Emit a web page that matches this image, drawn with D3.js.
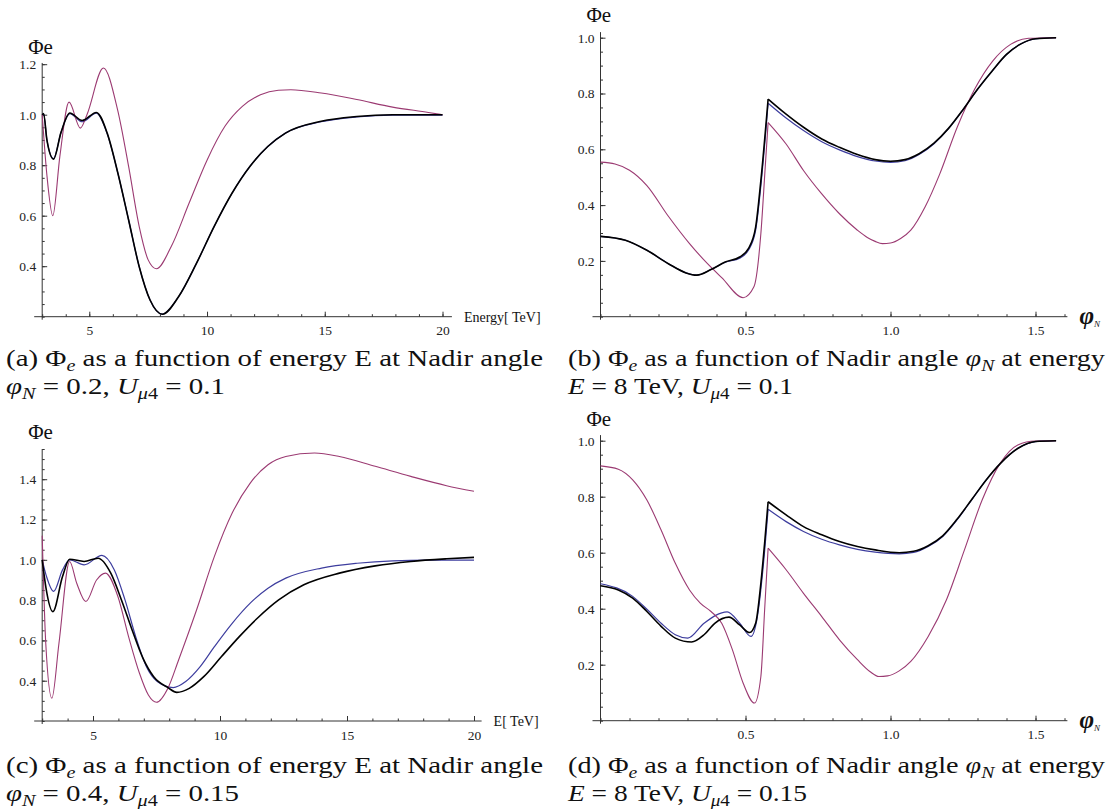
<!DOCTYPE html>
<html>
<head>
<meta charset="utf-8">
<script src="https://cdn.jsdelivr.net/npm/d3@7"></script>
<style>
  body { margin: 0; background: #fff; }
  svg { display: block; }
  svg text { font-family: 'Liberation Serif', 'DejaVu Serif', serif; }
</style>
</head>
<body>
<svg width="1111" height="809"></svg>
<script>
// values, [x, Phi_e] pairs
// (a) energy scan, phi_N = 0.2, U = 0.1
const aBlue = [[3,1.0],[3.06,1.003],[3.2,0.9],[3.48,0.826],[3.8,0.93],[4.17,1.004],[4.7,0.972],[5.3,1.006],[5.76,0.925],[6.21,0.77],[6.67,0.583],[7.12,0.398],[7.58,0.266],[8.1,0.21],[8.79,0.279],[9.55,0.411],[10.3,0.557],[11.06,0.689],[11.82,0.795],[12.58,0.874],[13.33,0.927],[14.85,0.972],[16.36,0.991],[17.88,0.998],[20,0.998]];
const aMagenta = [[3,1.0],[3.2,0.76],[3.45,0.6],[3.75,0.835],[4.14,1.05],[4.62,0.947],[4.9,1.0],[5.6,1.185],[6.2,1.02],[6.67,0.795],[7.12,0.557],[7.5,0.425],[7.85,0.39],[8.48,0.478],[9.24,0.65],[10,0.82],[10.76,0.954],[11.5,1.033],[12.27,1.079],[13.03,1.097],[13.56,1.099],[14.85,1.086],[16.36,1.06],[17.88,1.03],[19.4,1.009],[20,1.0]];
const aBlack = [[3,1.0],[3.06,1.005],[3.2,0.9],[3.48,0.824],[3.8,0.93],[4.17,1.007],[4.7,0.977],[5.3,1.009],[5.76,0.927],[6.21,0.77],[6.67,0.583],[7.12,0.398],[7.58,0.266],[8.1,0.21],[8.79,0.279],[9.55,0.411],[10.3,0.557],[11.06,0.689],[11.82,0.795],[12.58,0.874],[13.33,0.927],[14.85,0.974],[16.36,0.993],[17.88,1.0],[20,1.0]];

// (b) nadir angle scan, E = 8 TeV, U = 0.1
const bBlue = [[0,0.288],[0.086,0.274],[0.16,0.238],[0.234,0.19],[0.295,0.157],[0.332,0.149],[0.381,0.169],[0.43,0.195],[0.48,0.21],[0.51,0.238],[0.535,0.31],[0.553,0.47],[0.578,0.765],[0.64,0.712],[0.7,0.667],[0.763,0.627],[0.824,0.598],[0.886,0.574],[0.947,0.558],[1.0,0.553],[1.05,0.559],[1.1,0.582],[1.15,0.62],[1.2,0.674],[1.25,0.742],[1.3,0.815],[1.35,0.88],[1.4,0.94],[1.45,0.978],[1.5,0.996],[1.571,1.0]];
const bMagenta = [[0,0.554],[0.05,0.547],[0.1,0.525],[0.16,0.47],[0.234,0.36],[0.307,0.262],[0.369,0.19],[0.418,0.14],[0.492,0.068],[0.529,0.107],[0.553,0.298],[0.568,0.536],[0.578,0.696],[0.64,0.619],[0.7,0.524],[0.763,0.44],[0.824,0.369],[0.886,0.31],[0.92,0.284],[0.947,0.27],[0.972,0.262],[1.0,0.264],[1.035,0.28],[1.07,0.31],[1.12,0.395],[1.17,0.512],[1.23,0.679],[1.29,0.815],[1.353,0.917],[1.414,0.976],[1.476,0.998],[1.571,1.0]];
const bBlack = [[0,0.288],[0.086,0.274],[0.16,0.238],[0.234,0.19],[0.295,0.157],[0.332,0.149],[0.381,0.169],[0.43,0.196],[0.48,0.214],[0.51,0.244],[0.535,0.321],[0.553,0.488],[0.578,0.78],[0.64,0.726],[0.7,0.679],[0.763,0.637],[0.824,0.607],[0.886,0.581],[0.947,0.563],[1.0,0.557],[1.05,0.563],[1.1,0.585],[1.15,0.622],[1.2,0.675],[1.25,0.742],[1.3,0.815],[1.35,0.88],[1.4,0.94],[1.45,0.978],[1.5,0.996],[1.571,1.0]];

// (c) energy scan, phi_N = 0.4, U = 0.15
const cBlue = [[3,1.0],[3.17,0.917],[3.45,0.843],[3.8,0.95],[4.08,1.0],[4.65,0.975],[5.35,1.022],[5.84,0.95],[6.26,0.801],[6.68,0.619],[7.1,0.47],[7.53,0.396],[8.16,0.366],[8.65,0.396],[9.22,0.47],[9.78,0.569],[10.48,0.685],[11.19,0.785],[11.89,0.859],[12.59,0.909],[14,0.959],[15.4,0.983],[16.8,0.995],[18.2,0.998],[20,0.998]];
const cMagenta = [[3,1.12],[3.14,0.586],[3.38,0.313],[3.66,0.586],[4.08,0.992],[4.36,0.884],[4.72,0.793],[5.14,0.9],[5.49,0.934],[5.98,0.818],[6.4,0.619],[6.83,0.437],[7.18,0.329],[7.5,0.293],[7.95,0.363],[8.37,0.503],[9.08,0.752],[9.78,1.017],[10.48,1.232],[11.19,1.381],[11.89,1.472],[12.59,1.513],[13.72,1.53],[14.7,1.513],[16.11,1.464],[17.51,1.414],[18.92,1.368],[20,1.34]];
const cBlack = [[3,1.0],[3.15,0.86],[3.42,0.743],[3.8,0.917],[4.08,1.003],[4.65,0.992],[5.2,1.008],[5.7,0.934],[6.12,0.801],[6.54,0.652],[6.97,0.511],[7.39,0.42],[7.95,0.366],[8.3,0.342],[8.79,0.362],[9.36,0.42],[10.06,0.52],[10.76,0.619],[11.47,0.71],[12.31,0.801],[13.3,0.876],[14.7,0.934],[16.11,0.97],[17.51,0.992],[18.92,1.005],[20,1.012]];

// (d) nadir angle scan, E = 8 TeV, U = 0.15
const dBlue = [[0,0.489],[0.111,0.444],[0.16,0.398],[0.209,0.348],[0.258,0.307],[0.301,0.295],[0.357,0.348],[0.437,0.389],[0.48,0.348],[0.519,0.301],[0.541,0.372],[0.56,0.539],[0.578,0.755],[0.64,0.711],[0.7,0.676],[0.763,0.648],[0.824,0.628],[0.886,0.612],[0.947,0.602],[1.03,0.596],[1.08,0.601],[1.13,0.622],[1.18,0.658],[1.23,0.718],[1.28,0.789],[1.33,0.86],[1.38,0.92],[1.44,0.973],[1.5,0.997],[1.571,1.0]];
const dMagenta = [[0,0.91],[0.0615,0.898],[0.111,0.86],[0.16,0.788],[0.209,0.681],[0.258,0.562],[0.307,0.467],[0.344,0.42],[0.381,0.39],[0.418,0.348],[0.455,0.253],[0.492,0.134],[0.531,0.063],[0.553,0.158],[0.566,0.396],[0.578,0.616],[0.64,0.539],[0.7,0.455],[0.763,0.372],[0.824,0.289],[0.886,0.218],[0.93,0.175],[0.96,0.158],[0.99,0.16],[1.03,0.178],[1.07,0.212],[1.13,0.301],[1.193,0.432],[1.255,0.61],[1.316,0.788],[1.378,0.919],[1.439,0.985],[1.5,0.999],[1.571,1.0]];
const dBlack = [[0,0.482],[0.0615,0.467],[0.111,0.438],[0.16,0.39],[0.209,0.337],[0.258,0.295],[0.314,0.281],[0.357,0.307],[0.394,0.348],[0.443,0.37],[0.48,0.342],[0.514,0.315],[0.535,0.348],[0.553,0.491],[0.566,0.634],[0.578,0.782],[0.64,0.735],[0.7,0.693],[0.763,0.664],[0.824,0.64],[0.886,0.622],[0.947,0.61],[1.03,0.6],[1.08,0.605],[1.13,0.625],[1.18,0.66],[1.23,0.72],[1.28,0.79],[1.33,0.86],[1.38,0.92],[1.44,0.973],[1.5,0.997],[1.571,1.0]];

// tick labels
const energyTicks = [5, 10, 15, 20];
const angleTicks = [0.5, 1.0, 1.5];
const yTicksA = [0.4, 0.6, 0.8, 1.0, 1.2];
const yTicksB = [0.2, 0.4, 0.6, 0.8, 1.0];
const yTicksC = [0.4, 0.6, 0.8, 1.0, 1.2, 1.4];

// captions: [text, style] segments. style: i = italic, s = subscript, is = italic subscript
const capA = [[['(a) '], ['Φ'], ['e', 'is'], [' as a function of energy E at Nadir angle']],
              [['φ', 'i'], ['N', 'is'], [' = 0.2, '], ['U', 'i'], ['μ', 'is'], ['4', 's'], [' = 0.1']]];
const capB = [[['(b) '], ['Φ'], ['e', 'is'], [' as a function of Nadir angle '], ['φ', 'i'], ['N', 'is'], [' at energy']],
              [['E', 'i'], [' = 8 TeV, '], ['U', 'i'], ['μ', 'is'], ['4', 's'], [' = 0.1']]];
const capC = [[['(c) '], ['Φ'], ['e', 'is'], [' as a function of energy E at Nadir angle']],
              [['φ', 'i'], ['N', 'is'], [' = 0.4, '], ['U', 'i'], ['μ', 'is'], ['4', 's'], [' = 0.15']]];
const capD = [[['(d) '], ['Φ'], ['e', 'is'], [' as a function of Nadir angle '], ['φ', 'i'], ['N', 'is'], [' at energy']],
              [['E', 'i'], [' = 8 TeV, '], ['U', 'i'], ['μ', 'is'], ['4', 's'], [' = 0.15']]];

const colBlue = '#3d3d9e';
const colMagenta = '#9b3a72';

const svg = d3.select('svg');

function drawPanel(p) {
  const g = svg.append('g');
  const x = d3.scaleLinear().domain(p.xDomain).range(p.xRange);
  const y = d3.scaleLinear().domain(p.yDomain).range(p.yRange);
  const x0 = x(p.xDomain[0]);
  const y0 = y(p.yDomain[0]);

  // axis lines, Mathematica style (crossing slightly)
  g.append('line')
   .attr('x1', x0 - 8).attr('x2', x(p.xAxisEnd))
   .attr('y1', y0).attr('y2', y0)
   .style('stroke', '#333').style('stroke-width', 1);
  g.append('line')
   .attr('x1', x0).attr('x2', x0)
   .attr('y1', y0 + 3).attr('y2', y(p.yAxisEnd))
   .style('stroke', '#333').style('stroke-width', 1);

  // minor ticks
  g.append('g')
   .attr('transform', `translate(0, ${y0})`)
   .call(d3.axisBottom(x).tickValues(p.xMinor).tickSize(-2.5).tickFormat(''))
   .call(a => a.select('.domain').remove());
  g.append('g')
   .attr('transform', `translate(${x0}, 0)`)
   .call(d3.axisLeft(y).tickValues(p.yMinor).tickSize(-2.5).tickFormat(''))
   .call(a => a.select('.domain').remove());

  // major ticks + labels
  const xa = g.append('g')
   .attr('transform', `translate(0, ${y0})`)
   .call(d3.axisBottom(x).tickValues(p.xTicks).tickSize(-5).tickPadding(9).tickFormat(p.xFormat))
   .call(a => a.select('.domain').remove());
  const ya = g.append('g')
   .attr('transform', `translate(${x0}, 0)`)
   .call(d3.axisLeft(y).tickValues(p.yTicks).tickSize(-5).tickPadding(6).tickFormat(d3.format('.1f')))
   .call(a => a.select('.domain').remove());

  g.selectAll('.tick line').style('stroke', '#333').style('stroke-width', 1);
  [xa, ya].forEach(a => a.attr('font-family', null).attr('font-size', null)
    .selectAll('text').style('font-size', '13.5px').style('fill', '#222'));

  // curves, split at the sharp kink (core boundary) so the corner stays sharp
  const line = d3.line()
    .x(d => x(d[0]))
    .y(d => y(d[1]))
    .curve(d3.curveMonotoneX);

  p.series.forEach(s => {
    const pieces = p.kink == null ? [s.data]
      : [s.data.filter(d => d[0] <= p.kink), s.data.filter(d => d[0] >= p.kink)];
    pieces.forEach(piece => {
      g.append('path')
       .datum(piece)
       .attr('d', line)
       .style('fill', 'none')
       .style('stroke', s.color)
       .style('stroke-width', s.width)
       .style('stroke-linejoin', 'round');
    });
  });

  // y label
  g.append('text')
   .text('Φe')
   .attr('x', x0 - 14).attr('y', p.yLabelY)
   .style('font-size', '21px').style('fill', '#111');

  // x label
  const xl = g.append('text')
   .attr('x', x(p.xAxisEnd) + 12).attr('y', y0 + 5)
   .style('fill', '#111');
  if (p.xLabel === 'phi') {
    xl.attr('y', y0 + 7);
    xl.append('tspan').text('φ').style('font-style', 'italic').style('font-size', '25px').style('font-weight', 'bold');
    xl.append('tspan').text('N').attr('dy', 3).style('font-style', 'italic').style('font-size', '9px');
  } else {
    xl.text(p.xLabel).style('font-size', '14px');
  }
}

function drawCaption(lines, xPos, yPos, widths) {
  lines.forEach((segs, li) => {
    const t = svg.append('text')
      .attr('x', xPos).attr('y', yPos + li * 28)
      .attr('textLength', widths[li])
      .attr('lengthAdjust', 'spacingAndGlyphs')
      .style('font-size', '23px').style('fill', '#111');
    let shift = 0;
    segs.forEach(([txt, st]) => {
      const sub = st === 's' || st === 'is';
      const want = sub ? 5 : 0;
      const ts = t.append('tspan').text(txt).attr('dy', want - shift);
      shift = want;
      if (st === 'i' || st === 'is') ts.style('font-style', 'italic');
      if (sub) ts.style('font-size', '16px');
    });
  });
}

const eMinor = d3.range(3, 21);
const phiMinor = d3.range(0, 17).map(i => i / 10);
const minorY = (lo, hi) => d3.range(Math.round(lo * 20), Math.round(hi * 20) + 1).map(i => i / 20);

drawPanel({
  xDomain: [3, 20], xRange: [42.2, 442.5], xAxisEnd: 20.4,
  yDomain: [0.2, 1.2], yRange: [316.7, 64.2], yAxisEnd: 1.205,
  xTicks: energyTicks, xFormat: d3.format('d'), yTicks: yTicksA,
  xMinor: eMinor, yMinor: minorY(0.2, 1.2),
  xLabel: 'Energy[ TeV]', yLabelY: 54,
  series: [
    { data: aBlue, color: colBlue, width: 1.2 },
    { data: aMagenta, color: colMagenta, width: 1.1 },
    { data: aBlack, color: '#000', width: 1.6 }
  ]
});

drawPanel({
  xDomain: [0, 1.6], xRange: [600.5, 1064.5], xAxisEnd: 1.61,
  yDomain: [0, 1.0], yRange: [316.7, 37.7], yAxisEnd: 1.02,
  xTicks: angleTicks, xFormat: d3.format('.1f'), yTicks: yTicksB,
  xMinor: phiMinor, yMinor: minorY(0, 1.0),
  xLabel: 'phi', yLabelY: 22, kink: 0.578,
  series: [
    { data: bBlue, color: colBlue, width: 1.2 },
    { data: bMagenta, color: colMagenta, width: 1.1 },
    { data: bBlack, color: '#000', width: 1.6 }
  ]
});

drawPanel({
  xDomain: [3, 20], xRange: [42.2, 474], xAxisEnd: 20.3,
  yDomain: [0.2, 1.55], yRange: [721, 449], yAxisEnd: 1.55,
  xTicks: energyTicks, xFormat: d3.format('d'), yTicks: yTicksC,
  xMinor: eMinor, yMinor: minorY(0.2, 1.55),
  xLabel: 'E[ TeV]', yLabelY: 439,
  series: [
    { data: cBlue, color: colBlue, width: 1.2 },
    { data: cMagenta, color: colMagenta, width: 1.1 },
    { data: cBlack, color: '#000', width: 1.6 }
  ]
});

drawPanel({
  xDomain: [0, 1.6], xRange: [600.5, 1064.5], xAxisEnd: 1.61,
  yDomain: [0, 1.0], yRange: [720.7, 440.7], yAxisEnd: 1.02,
  xTicks: angleTicks, xFormat: d3.format('.1f'), yTicks: yTicksB,
  xMinor: phiMinor, yMinor: minorY(0, 1.0),
  xLabel: 'phi', yLabelY: 426, kink: 0.578,
  series: [
    { data: dBlue, color: colBlue, width: 1.2 },
    { data: dMagenta, color: colMagenta, width: 1.1 },
    { data: dBlack, color: '#000', width: 1.6 }
  ]
});

drawCaption(capA, 6, 366, [537, 219]);
drawCaption(capB, 568, 366, [537, 225]);
drawCaption(capC, 6, 773, [537, 233]);
drawCaption(capD, 568, 773, [537, 239]);
</script>
</body>
</html>
